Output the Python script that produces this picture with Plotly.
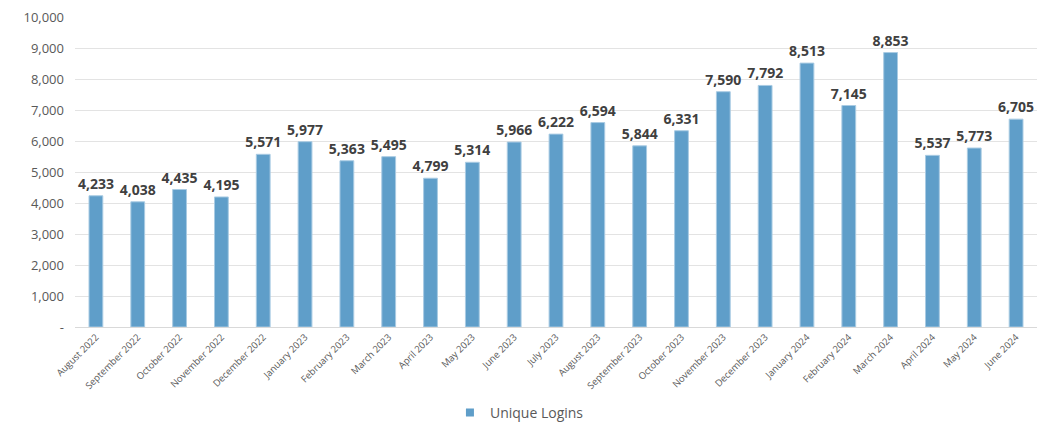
import plotly.graph_objects as go

months = ["August 2022", "September 2022", "October 2022", "November 2022", "December 2022",
          "January 2023", "February 2023", "March 2023", "April 2023", "May 2023", "June 2023",
          "July 2023", "August 2023", "September 2023", "October 2023", "November 2023",
          "December 2023", "January 2024", "February 2024", "March 2024", "April 2024",
          "May 2024", "June 2024"]
logins = [4233, 4038, 4435, 4195, 5571, 5977, 5363, 5495, 4799, 5314, 5966, 6222, 6594,
          5844, 6331, 7590, 7792, 8513, 7145, 8853, 5537, 5773, 6705]
ytick_vals = [0, 1000, 2000, 3000, 4000, 5000, 6000, 7000, 8000, 9000, 10000]
ytick_text = ["-"] + [f"{v:,}" for v in ytick_vals[1:]]

BAR_COLOR = "#5f9ec9"

fig = go.Figure()
fig.add_trace(go.Bar(
    x=months, y=logins, name="Unique Logins", showlegend=False,
    marker=dict(color=BAR_COLOR, line=dict(color="#a9cbe3", width=1)),
    text=[f"{v:,}" for v in logins], textposition="outside", constraintext="none",
    textfont=dict(family="Open Sans", size=14, color="#404040", weight="bold"),
    cliponaxis=False,
))
fig.add_trace(go.Scatter(
    x=[None], y=[None], mode="markers", name="Unique Logins",
    marker=dict(symbol="square", size=8, color=BAR_COLOR),
))
fig.update_layout(
    width=1039, height=423,
    margin=dict(l=75, r=2, t=17, b=96, autoexpand=False),
    paper_bgcolor="white", plot_bgcolor="white",
    font=dict(family="Open Sans", color="#595959"),
    bargap=0.67,
    showlegend=True,
    legend=dict(orientation="h", x=0.462, xanchor="center", y=-0.277, yanchor="middle",
                font=dict(size=14, color="#595959"), itemwidth=30),
    xaxis=dict(tickangle=-45, tickfont=dict(size=9.5, color="#595959"), showgrid=False,
               showline=True, linecolor="#d9d9d9", ticks="", automargin=False),
    yaxis=dict(range=[0, 10000], tickvals=ytick_vals, ticktext=ytick_text,
               tickfont=dict(size=13, color="#595959"), gridcolor="#e3e3e3",
               zeroline=False, ticks="", ticklabelstandoff=10, automargin=False),
)
fig.write_html("out.html")
